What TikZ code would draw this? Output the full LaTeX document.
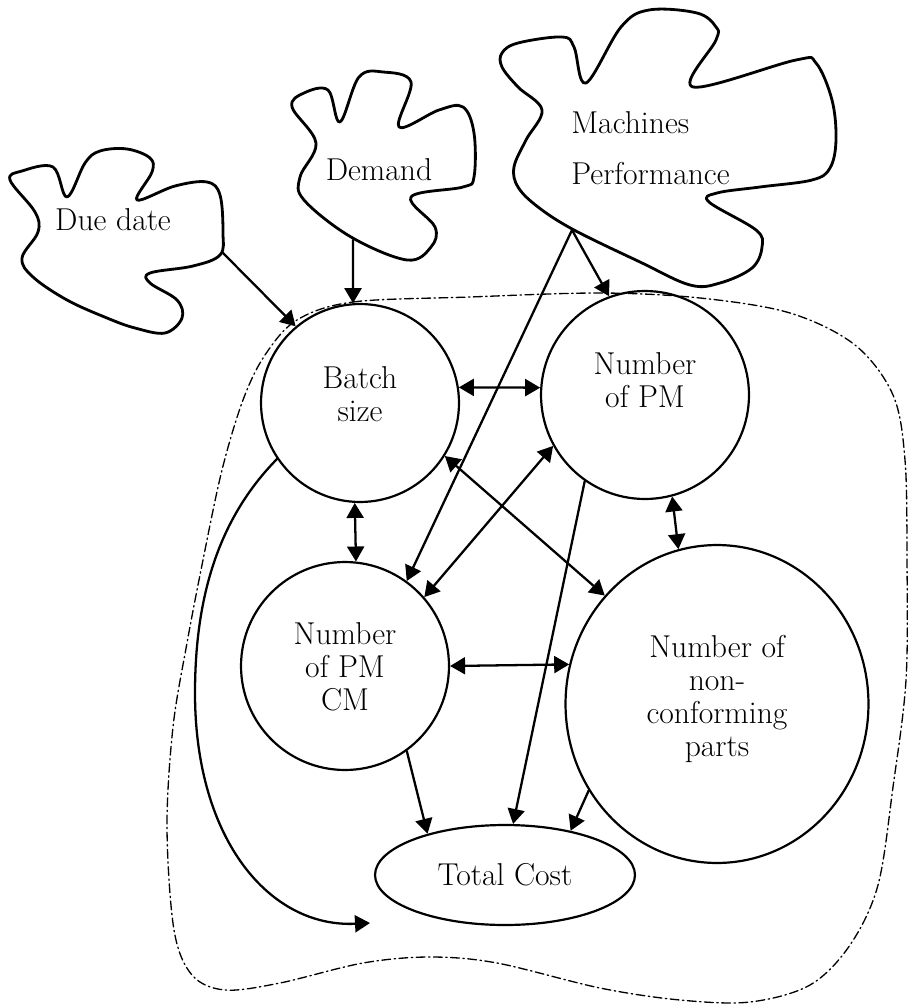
\documentclass[tikz,border=0pt]{standalone}
\usepackage{tikz}
\usetikzlibrary{arrows.meta,shapes.geometric}

\begin{document}
\begin{tikzpicture}[line cap=round,line join=round,>={Triangle[length=0.3cm,width=0.34cm]},
  x=0.02cm,y=-0.02cm,
  factor/.style={circle,draw,line width=1.25pt,inner sep=0pt},
  oval/.style={ellipse,draw,line width=1.25pt,inner sep=0pt},
  blob/.style={line width=1.6pt},
  txt/.style={align=center,inner sep=0pt,font=\fontsize{18}{18.7}\selectfont},
  link/.style={->,line width=1.3pt},
  both/.style={<->,line width=1.3pt},
  border/.style={line width=0.75pt,dash pattern=on 5pt off 2pt on 0.8pt off 2pt}]
  \useasboundingbox (0,0) rectangle (907,1007);
  \draw[border] plot[smooth cycle,tension=0.55] coordinates {(297,320) (353,302) (470,297)
    (600,293) (700,298) (790,313) (855,345) (893,395) (905,460) (907,560) (906,680)
    (893,787) (878,885) (850,945) (810,985) (750,1002) (680,1000) (600,988) (497,963)
    (430,957) (363,963) (280,983) (225,990) (192,975) (174,930) (167,827) (173,727)
    (187,643) (203,560) (222,470) (243,400) (265,355)};
  \draw[blob] plot[smooth cycle,tension=0.6] coordinates {(10,180) (22,171) (53,167)
    (67,197) (85,163) (100,151) (127,149) (150,158) (152,172) (137,200) (175,186)
    (207,182) (220,195) (223,233) (220,255) (193,266) (150,273) (150,283) (177,300)
    (182,318) (165,333) (135,328) (107,318) (67,300) (33,277) (22,258) (38,232) (35,212)};
  \draw[blob] plot[smooth cycle,tension=0.6] coordinates {(292,107) (304,93) (328,90)
    (340,122) (359,77) (383,72) (411,82) (399,127) (439,110) (463,107) (474,133)
    (474,177) (463,187) (411,197) (435,227) (431,247) (407,260) (351,237) (304,200)
    (300,177) (316,143)};
  \draw[blob] plot[smooth cycle,tension=0.6] coordinates {(502,53) (518,43) (562,37)
    (574,47) (586,83) (621,27) (649,10) (697,13) (716,27) (716,40) (693,87) (796,60)
    (816,63) (832,100) (836,140) (830,168) (812,180) (760,187) (717,193) (709,202)
    (756,230) (762,247) (752,268) (720,283) (690,285) (640,262) (574,230) (538,207)
    (518,187) (514,167) (526,140) (542,110) (518,87) (502,67)};
  \node[txt] (due) at (113,220) {Due date};
  \node[txt] (demand) at (379,170) {Demand};
  \node[txt,align=left,anchor=west] (machines) at (571,148) {Machines\\[10pt]Performance};
  \coordinate (duefoot) at (223,253);
  \coordinate (demfoot) at (353,240);
  \coordinate (machfoot) at (572,230);
  \node[factor,minimum size=3.96cm] (batch) at (360,403) {};
  \node[factor,minimum size=4.16cm] (npm) at (645,395) {};
  \node[factor,minimum size=4.16cm] (pmcm) at (345,666) {};
  \node[oval,minimum width=6.06cm,minimum height=6.36cm] (ncp) at (717,704) {};
  \node[oval,minimum width=5.2cm,minimum height=2cm,font=\fontsize{18}{18.7}\selectfont] (total) at (505,875) {Total Cost};
  \node[txt] (batchtxt) at (360,394) {Batch\\size};
  \node[txt] (npmtxt) at (645,380) {Number\\of PM};
  \node[txt] (pmcmtxt) at (345,667) {Number\\of PM\\CM};
  \node[txt] (ncptxt) at (717,699) {Number of\\non-\\conforming\\parts};
  \coordinate (curveend) at (370,923);
  \draw[link] (duefoot) -- (batch.130);
  \draw[link] (demfoot) -- (batch.94);
  \draw[link] (machfoot) -- (npm.110);
  \draw[link] (machfoot) -- (pmcm.54);
  \draw[both] (batch.9) -- (npm.176);
  \draw[both] (batch.-93) -- (pmcm.84);
  \draw[both] (batch.-32) -- (ncp.136);
  \draw[both] (npm.-151) -- (pmcm.41);
  \draw[both] (npm.-75) -- (ncp.104);
  \draw[both] (pmcm.0) -- (ncp.165);
  \draw[link] (npm.-125) -- (total.81);
  \draw[link] (pmcm.-54) -- (total.152);
  \draw[link] (ncp.-146) -- (total.34);
  \draw[link] (batch.-146) .. controls (222,515) and (195,590) .. (195,693)
    .. controls (195,840) and (270,928) .. (curveend);
\end{tikzpicture}
\end{document}
